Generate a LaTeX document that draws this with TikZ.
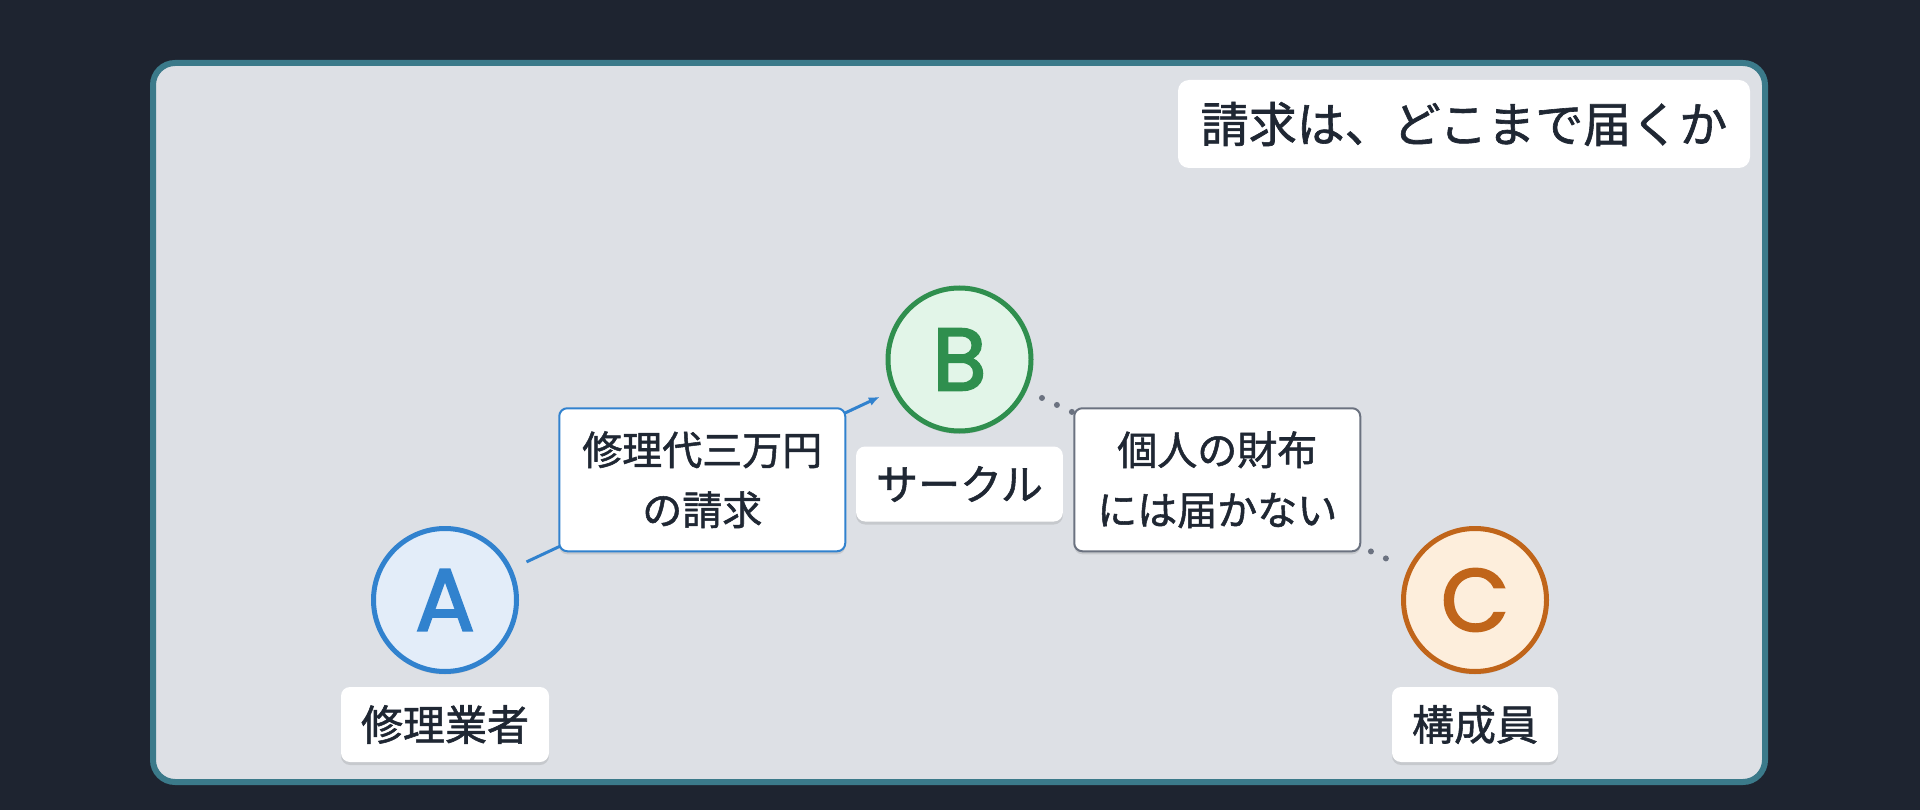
\documentclass[tikz,border=0pt]{standalone}
\usepackage{fontspec}
\setmainfont{Noto Sans CJK JP}[RawFeature={embolden=1.3}]
\newfontfamily\letterfont{Poppins}[RawFeature={embolden=2.5}]
\usetikzlibrary{arrows.meta,calc,shadows}
\definecolor{bgdark}{HTML}{1E2430}
\definecolor{panelfill}{HTML}{DDE0E5}
\definecolor{panelline}{HTML}{3B7A8A}
\definecolor{txt}{HTML}{1F2733}
\definecolor{ablue}{HTML}{3182CE}
\definecolor{abluefill}{HTML}{E3EDF9}
\definecolor{bgreen}{HTML}{2F8F4E}
\definecolor{bgreenfill}{HTML}{E2F5E8}
\definecolor{corange}{HTML}{C0651A}
\definecolor{corangefill}{HTML}{FDEEDC}
\definecolor{grayline}{HTML}{6B7280}
\tikzset{
  softshadow/.style={drop shadow={shadow xshift=0pt,shadow yshift=-3pt,opacity=0.10,fill=black}},
  person/.style={circle,inner sep=0pt,minimum size=143pt,line width=5pt,softshadow,
    font=\letterfont\fontsize{88}{88}\selectfont},
  namebox/.style={rectangle,rounded corners=9pt,fill=white,inner sep=0pt,inner xsep=20pt,
    minimum height=75pt,text=txt,font=\fontsize{42}{42}\selectfont,softshadow},
  edgebox/.style={rectangle,rounded corners=8pt,fill=white,line width=2pt,inner sep=0pt,
    minimum width=286pt,minimum height=143pt,align=center,text=txt,
    font=\fontsize{40}{60}\selectfont,softshadow},
  titlebox/.style={rectangle,rounded corners=11pt,fill=white,inner sep=0pt,
    minimum width=572pt,minimum height=88pt,text=txt,font=\fontsize{48}{48}\selectfont}
}
\begin{document}
\begin{tikzpicture}[x=1pt,y=-1pt]
\fill[bgdark] (0,0) rectangle (1920,810);
\useasboundingbox (0,0) rectangle (1920,810);
\draw[panelline,fill=panelfill,line width=6pt,rounded corners=22pt] (153,63) rectangle (1765,782);
\node[titlebox] (title) at (1464,124) {請求は、どこまで届くか};
\node[person,draw=ablue,fill=abluefill,text=ablue] (A) at (445,600) {A};
\node[person,draw=bgreen,fill=bgreenfill,text=bgreen] (B) at (959.5,359.5) {B};
\node[person,draw=corange,fill=corangefill,text=corange] (C) at (1475,600) {C};
\node[namebox] (Alab) at (445,724.5) {修理業者};
\node[namebox] (Blab) at (959.5,484) {サークル};
\node[namebox] (Clab) at (1475,724.5) {構成員};
\draw[ablue,line width=3pt,shorten <=16pt,shorten >=14pt,-{Latex[length=11pt,width=9pt]}] (A) -- (B);
\draw[grayline,line width=6pt,line cap=round,dash pattern=on 0pt off 16.5pt,shorten <=17pt,shorten >=16pt] (B) -- (C);
\node[edgebox,draw=ablue] (ABlab) at ($(A)!0.5!(B)$) {修理代三万円\\の請求};
\node[edgebox,draw=grayline] (BClab) at ($(B)!0.5!(C)$) {個人の財布\\には届かない};
\end{tikzpicture}
\end{document}
